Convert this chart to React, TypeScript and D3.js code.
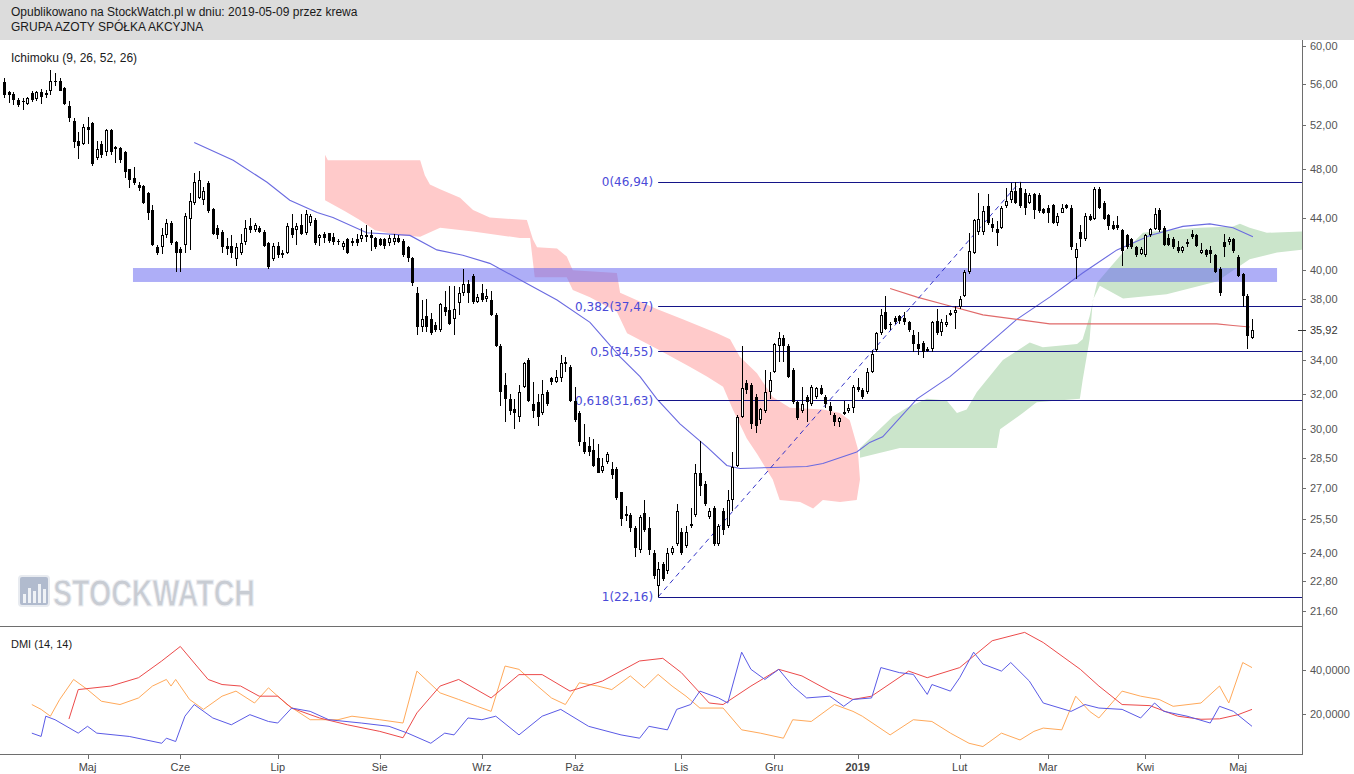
import React from 'react';
import * as d3 from 'd3';

// ---------- DATA ----------
// Daily candles [open, high, low, close], trading-day index 0..269
const candles: [number, number, number, number][] = [
  [56.2,56.6,54.6,54.9],[55.2,55.3,54.1,54.9],[55.0,55.2,53.9,54.4],[54.4,54.6,53.7,53.9],[54.3,54.6,53.4,54.2],
  [54.0,54.7,53.9,54.6],[55.1,55.3,54.2,54.4],[54.5,55.3,54.3,55.2],[55.2,55.5,54.0,54.7],[55.0,55.4,54.6,55.1],
  [55.3,57.5,54.9,56.3],[56.3,57.1,55.8,56.2],[56.3,56.6,55.3,55.3],[55.6,55.7,53.9,54.0],[53.8,54.3,52.3,52.7],
  [52.4,52.7,49.9,50.4],[50.5,51.4,48.9,50.1],[50.3,52.1,50.2,51.8],[51.8,52.8,50.3,51.5],[52.2,52.3,48.3,48.5],
  [49.0,50.5,48.8,49.8],[50.3,50.5,49.0,49.3],[49.5,51.6,49.2,51.5],[51.5,51.6,49.3,49.5],[50.0,50.1,48.6,49.8],
  [49.9,50.0,48.6,48.8],[49.5,49.6,47.3,47.8],[48.0,48.0,46.4,47.1],[47.3,48.2,46.7,46.8],[46.7,46.9,46.2,46.4],
  [46.6,46.7,45.1,45.2],[46.0,46.1,43.8,44.4],[44.6,45.0,41.8,41.9],[41.7,41.9,41.1,41.3],[41.7,43.2,41.2,42.6],
  [42.6,43.9,42.4,43.6],[43.6,43.7,41.9,42.0],[42.1,42.2,39.9,41.3],[41.6,41.7,39.9,41.3],[41.9,44.4,41.3,44.1],
  [43.9,46.0,41.5,45.3],[45.2,47.7,45.0,46.9],[45.6,47.9,45.5,47.1],[45.4,46.5,45.0,46.2],[46.8,47.0,44.4,44.5],
  [44.7,44.8,42.6,42.7],[43.2,43.4,42.3,42.6],[42.9,43.0,41.3,41.7],[41.8,42.4,41.1,41.6],[41.8,42.6,40.9,41.3],
  [40.8,42.0,40.3,41.7],[41.3,42.7,41.1,42.0],[42.1,43.8,41.9,43.2],[43.3,44.0,42.8,43.0],[43.0,43.6,42.9,43.4],
  [43.2,43.3,42.8,42.9],[42.9,43.0,41.7,41.8],[42.0,42.1,40.1,40.2],[40.8,42.0,40.7,41.8],[41.8,42.1,40.9,41.1],
  [41.1,41.5,40.9,41.3],[41.3,43.6,41.2,43.3],[43.2,44.3,42.4,42.6],[43.0,43.6,41.9,43.3],[43.4,44.3,42.6,42.7],
  [42.8,44.6,42.6,44.3],[43.6,44.3,43.3,44.1],[43.8,44.0,41.9,42.0],[42.4,42.7,41.8,42.6],[42.7,42.9,42.0,42.4],
  [42.8,42.8,42.0,42.2],[42.5,42.8,41.9,42.1],[42.2,42.3,41.9,42.1],[41.7,42.2,41.5,42.0],[42.3,42.4,41.2,41.3],
  [42.0,42.4,41.8,42.2],[42.3,42.7,41.8,42.0],[42.3,43.2,42.1,42.6],[42.6,43.4,42.1,42.65],[42.6,43.0,41.4,42.4],
  [42.4,42.5,41.6,41.7],[42.3,42.4,41.8,41.9],[42.3,42.4,41.6,41.8],[42.0,42.6,41.8,42.4],[42.1,42.7,41.9,42.4],
  [42.4,42.6,42.0,42.1],[42.2,42.3,41.0,41.1],[41.7,41.8,40.6,40.9],[40.9,41.0,38.9,39.1],[38.4,38.8,35.6,36.1],
  [36.1,37.9,35.8,36.6],[36.8,38.0,35.8,36.1],[36.6,37.0,35.6,35.7],[36.2,36.4,35.8,35.9],[35.9,37.7,35.8,37.6],
  [37.4,38.5,36.8,37.1],[37.2,38.9,36.2,36.3],[36.6,38.9,35.6,37.3],[37.7,38.8,36.9,38.4],[38.4,40.1,38.2,39.0],
  [39.0,39.3,37.7,38.4],[39.6,39.7,37.6,37.8],[37.8,38.3,37.7,38.1],[38.4,39.0,37.8,37.9],[38.0,38.7,37.8,38.2],
  [37.9,38.5,36.8,36.9],[36.9,37.0,34.8,34.9],[34.9,35.0,31.3,32.1],[32.5,33.2,30.4,31.7],[31.7,32.0,30.8,31.0],
  [31.1,31.7,30.0,30.9],[30.7,32.5,30.4,32.1],[32.4,33.9,32.3,33.8],[34.0,34.1,31.5,31.6],[31.4,32.7,30.6,31.0],
  [31.5,32.0,30.2,30.7],[30.9,32.8,30.8,32.0],[32.1,32.2,31.3,31.4],[32.9,33.0,32.5,32.7],[32.7,33.4,32.6,33.0],
  [32.9,34.3,32.7,33.8],[33.8,34.2,33.3,33.9],[33.6,33.7,31.5,31.6],[31.6,32.4,30.4,30.5],[30.9,31.0,29.1,29.3],
  [29.3,30.3,28.7,28.8],[29.1,29.6,28.6,28.8],[28.9,29.5,28.0,28.1],[28.5,29.2,27.7,27.7],[27.8,28.5,27.7,28.1],
  [28.3,28.8,28.2,28.7],[27.9,28.3,27.4,27.6],[27.9,28.0,26.4,26.5],[26.8,26.8,25.2,25.5],[25.7,26.1,25.4,25.75],
  [25.7,25.8,24.9,25.1],[25.1,25.2,23.8,24.2],[24.1,25.7,24.0,25.6],[25.8,26.4,24.9,25.0],[25.1,25.6,23.9,24.1],
  [24.0,24.1,22.9,23.0],[22.6,23.6,22.16,23.3],[23.5,23.6,22.8,22.9],[23.2,24.2,23.1,24.0],[24.0,24.3,23.9,24.2],
  [24.4,26.2,24.3,25.9],[24.9,25.1,23.9,24.0],[24.3,25.2,24.2,24.9],[25.2,26.0,25.1,25.3],[25.7,28.2,25.6,27.7],
  [27.7,29.4,26.6,27.1],[27.2,27.3,26.1,26.2],[25.6,26.0,25.5,25.9],[26.0,26.1,24.3,24.4],[24.4,25.3,24.3,25.2],
  [25.9,26.0,24.8,25.0],[25.2,26.9,25.1,26.4],[26.4,28.8,25.9,28.0],[28.1,30.8,28.0,30.7],[30.7,34.9,30.6,32.3],
  [32.6,32.8,32.0,32.2],[32.5,32.6,30.0,30.3],[31.8,32.0,29.8,30.2],[30.5,31.2,30.3,31.1],[31.0,33.4,30.9,32.1],
  [32.1,33.3,31.7,32.8],[33.3,35.1,33.2,35.0],[34.9,35.8,33.9,35.4],[35.4,35.6,33.9,34.9],[34.9,35.0,32.9,33.0],
  [33.4,33.5,31.4,31.5],[31.5,31.6,30.5,30.6],[31.0,32.4,30.9,31.4],[31.8,31.9,30.4,31.5],[31.4,32.5,31.3,32.4],
  [31.8,32.4,31.7,32.3],[32.3,32.5,31.9,32.0],[31.8,31.9,31.2,31.4],[31.3,31.5,30.8,31.0],[30.8,30.9,30.2,30.4],
  [30.4,30.7,30.1,30.6],[30.9,31.6,30.8,30.95],[31.0,31.4,30.9,31.2],[31.2,32.5,30.9,32.4],[32.4,32.9,32.1,32.2],
  [32.2,32.3,31.7,31.8],[32.1,33.5,32.0,33.3],[33.3,34.6,33.2,34.4],[34.6,35.8,34.5,35.7],[35.7,37.3,35.6,36.9],
  [37.1,38.2,35.9,36.0],[36.3,36.4,35.9,36.2],[36.7,36.8,36.3,36.4],[36.8,36.9,36.3,36.5],[36.7,37.1,36.2,36.4],
  [36.4,36.5,35.8,35.9],[35.6,35.9,34.5,35.0],[35.0,35.8,34.3,34.7],[35.1,35.2,34.1,34.5],[34.6,34.8,34.5,34.7],
  [34.7,36.5,34.5,36.4],[36.5,37.3,35.6,35.7],[35.8,36.6,35.5,36.4],[36.2,36.9,36.1,36.4],[36.9,37.2,36.8,37.0],
  [37.0,37.5,36.0,37.2],[37.4,38.2,37.3,38.0],[38.2,40.0,38.1,39.9],[39.9,42.8,39.7,41.4],[41.3,43.9,41.2,43.8],
  [42.9,46.0,42.6,43.9],[42.9,44.9,42.6,44.5],[44.9,45.9,43.4,43.6],[43.5,44.0,42.9,43.2],[43.1,43.7,41.8,42.8],
  [43.2,44.9,43.1,44.8],[44.9,46.4,44.8,45.3],[45.4,46.8,45.2,46.2],[46.2,46.9,45.1,45.2],[46.4,46.94,44.8,44.9],
  [46.0,46.3,44.2,44.8],[45.2,46.0,45.1,45.8],[45.9,46.0,43.9,44.6],[45.8,46.0,44.4,44.5],[44.7,44.8,44.3,44.4],
  [44.8,45.0,43.6,44.4],[45.0,45.1,43.5,43.6],[43.6,44.4,43.3,44.1],[44.4,45.1,44.4,44.8],[45.0,45.1,44.7,44.8],
  [44.8,45.0,41.5,41.7],[40.9,42.0,39.4,41.6],[42.9,43.4,41.7,42.3],[42.3,44.4,42.2,44.1],[44.1,44.3,43.7,43.8],
  [43.9,46.5,43.8,46.3],[46.3,46.5,44.7,44.8],[45.2,45.3,43.8,43.9],[44.2,44.3,43.0,43.3],[43.4,43.7,43.0,43.1],
  [43.4,44.1,43.0,43.2],[43.0,43.1,40.3,41.4],[42.6,42.7,41.6,41.7],[42.3,42.4,41.6,41.7],[41.7,41.8,41.0,41.1],
  [41.2,41.7,41.1,41.6],[41.1,42.7,41.0,42.6],[42.6,43.2,42.5,43.1],[43.1,44.8,43.0,44.3],[44.6,44.8,42.9,43.0],
  [43.2,43.3,41.8,41.9],[42.4,42.7,41.8,41.9],[42.3,42.5,41.6,41.7],[41.7,42.2,41.3,41.4],[41.4,41.8,41.3,41.7],
  [42.0,42.3,41.7,42.1],[42.7,43.0,42.3,42.5],[42.6,42.7,41.7,41.8],[41.3,42.0,41.2,41.5],[41.5,41.6,41.0,41.1],
  [41.5,41.8,40.5,41.2],[41.1,41.2,39.8,39.9],[40.1,40.2,38.2,38.4],[42.1,42.7,41.0,41.7],[42.1,42.5,41.9,42.3],
  [42.3,42.4,41.3,41.4],[41.0,41.1,39.5,39.6],[39.7,39.8,37.4,38.2],[38.2,38.3,34.7,35.5],[35.4,36.6,35.3,35.92],
];

// Ichimoku clouds: [tradingDayIndex, price]
const pinkTop: [number, number][] = [
  [69.2,49.3],[69.8,48.8],[89.7,48.8],[90.7,47.5],[91.8,46.7],[94,46.3],[98.3,45.6],[101.1,44.6],[104.7,44.0],
  [112.7,43.8],[114,42.3],[114.9,41.7],[119.2,41.6],[121.3,41.0],[122.6,40.0],[132.1,39.8],[132.8,38.4],
  [140.7,37.3],[146.3,36.6],[153.7,35.7],[156.5,35.3],[158.6,34.2],[162.3,33.2],[165.7,31.8],[169.4,31.2],
  [176.5,31.1],[180.2,30.9],[182.3,30.5],[184,29.0],
];
const pinkBottom: [number, number][] = [
  [69.2,45.4],[73.5,44.5],[76.7,43.8],[80,43.0],[85.3,42.6],[89.7,42.5],[94,43.2],[101.1,42.9],[111.2,42.4],
  [113.4,42.4],[114.4,39.5],[121.3,39.5],[122.6,38.6],[126.3,38.1],[132.1,37.1],[134.3,35.7],[140.7,34.7],
  [147.8,33.6],[151.5,33.0],[155,32.4],[157.1,31.1],[160.1,29.5],[162.3,28.7],[165.7,27.4],[167.2,26.4],
  [171.6,26.3],[174.4,26.0],[176.5,26.4],[180.2,26.3],[183.8,26.4],[184.5,27.4],
];
const greenTop: [number, number][] = [
  [184.5,29.0],[191.6,30.7],[194.6,31.2],[198.9,31.7],[203.2,31.6],[205.4,30.9],[207.5,31.1],[209.7,32.1],
  [215.3,34.0],[221.1,35.1],[223.9,34.8],[231.3,35.0],[232.5,35.3],[234,36.8],[235.6,39.1],[238.4,40.2],
  [241.2,41.3],[245.5,42.8],[250.6,43.0],[257.8,43.2],[264.9,43.3],[266.4,43.5],[268.5,43.2],[272.2,42.8],
  [279.7,42.9],[285,42.9],
];
const greenBottom: [number, number][] = [
  [184.5,28.5],[193.1,29.0],[214,29.0],[214.7,30.0],[219.6,30.9],[222.6,31.5],[231.9,31.7],[232.5,32.8],
  [234,35.3],[234.7,37.9],[236.2,38.9],[241.2,38.0],[250.6,38.3],[257.8,38.9],[261.4,39.2],[268.5,40.8],
  [274.4,41.3],[279.7,41.5],[285,41.5],
];

// Ichimoku lines
const blueLine: [number, number][] = [
  [41,50.4],[49.4,48.8],[56.7,46.9],[61.6,45.4],[67.5,44.4],[70.9,44.0],[78.2,42.8],[87.5,42.6],[93.3,41.5],
  [98.9,41.1],[104.7,40.5],[111.9,39.2],[119.2,37.9],[126.3,36.4],[132.8,34.2],[137.1,33.0],[140.7,31.7],
  [145.7,30.3],[151.5,29.06],[155.8,28.1],[158.6,27.95],[165.7,28.0],[173,28.05],[176.5,28.2],[183.8,28.8],
  [186.6,29.3],[189.4,29.6],[196.8,31.7],[203.9,33.0],[211,34.7],[218.3,36.6],[225.4,38.1],[232.5,39.8],
  [239.9,41.5],[247,42.6],[254.1,43.3],[259.9,43.5],[264.9,43.2],[269.2,42.5],
];
const redLine: [number, number][] = [
  [191,38.7],[196.8,38.1],[203.9,37.5],[211,36.9],[218.3,36.6],[225.4,36.3],[239.9,36.3],[254.1,36.3],
  [261.4,36.3],[264.9,36.2],[268.5,36.1],
];

// Support band and Fibonacci retracement
const bandRange = { from: 27.8, to: 274.4, low: 39.16, high: 40.16 };
const fibLevels = [46.94, 37.47, 34.55, 31.63, 22.16];
const fibLabels = ['0(46,94)', '0,382(37,47)', '0,5(34,55)', '0,618(31,63)', '1(22,16)'];
const fibLowIndex = 141;
const fibHighIndex = 219;

// DMI (14,14): [index, value]
const dmiAdx: [number, number][] = [
  [14,17.7],[16,31.1],[23,32.7],[29,36.5],[34,44.1],[38,50.7],[44,35.7],[47,33.4],[51,32.7],[55,28.1],[59,28.1],
  [62,22.7],[68,18.2],[74,15.1],[81,12.1],[86,9.2],[89,20.5],[94,32.7],[98,35.7],[105,27.3],[111,37.9],[116,37.9],
  [122,30.4],[129,35.0],[137,44.1],[142,45.3],[146,38.8],[152,25.0],[155,24.3],[161,32.7],[167,40.3],[172,37.3],
  [178,30.4],[183,26.6],[187,28.1],[195,39.5],[199,36.5],[206,41.1],[213,53.3],[220,57.1],[224,52.5],[232,40.3],
  [236,32.7],[241,24.3],[247,23.8],[253,19.0],[258,17.6],[262,17.8],[266,19.7],[269,22.1],
];
const dmiPlus: [number, number][] = [
  [6,11.3],[8,9.8],[9,19.0],[11,17.4],[16,11.3],[18,14.4],[20,11.3],[27,9.8],[34,6.7],[35,9.0],[37,7.5],[39,19.0],
  [41,24.3],[45,18.2],[49,15.1],[53,19.7],[57,16.6],[59,15.9],[62,22.7],[66,21.2],[70,17.4],[77,15.9],[83,14.4],
  [87,11.3],[92,6.7],[95,11.3],[97,10.5],[100,18.2],[103,17.4],[106,19.0],[111,10.5],[116,19.0],[120,22.1],
  [126,14.4],[133,10.5],[137,9.0],[139,14.4],[143,12.8],[145,22.1],[148,24.3],[150,30.4],[154,27.3],[156,25.0],
  [159,48.1],[161,40.3],[164,35.7],[167,40.3],[170,32.7],[173,27.3],[178,28.1],[181,23.5],[183,26.6],[187,27.3],
  [189,41.1],[193,38.8],[196,38.0],[199,28.9],[200,33.4],[204,30.4],[206,36.5],[209,48.1],[211,42.7],[215,39.5],
  [217,43.4],[221,35.0],[224,25.0],[230,21.2],[233,24.3],[236,22.7],[241,22.1],[245,18.2],[248,25.0],[250,21.2],
  [255,19.0],[260,15.9],[262,23.5],[265,21.2],[269,14.4],
];
const dmiMinus: [number, number][] = [
  [6,24.3],[8,22.1],[10,19.0],[12,26.6],[15,35.7],[18,31.1],[21,25.8],[25,24.3],[29,27.3],[32,32.7],[35,35.7],
  [36,32.7],[37,35.7],[40,26.6],[43,22.1],[47,28.1],[50,30.4],[54,25.0],[57,31.9],[61,24.3],[66,17.4],[72,17.4],
  [75,19.0],[81,17.4],[86,15.9],[89,39.5],[94,29.6],[98,26.6],[102,23.5],[105,21.2],[108,41.8],[111,40.3],
  [115,32.7],[118,27.3],[121,24.3],[124,34.2],[128,32.7],[131,31.1],[135,37.3],[138,31.9],[141,38.0],[144,32.7],
  [147,28.1],[150,22.7],[155,22.7],[159,12.8],[163,11.3],[168,9.0],[170,17.4],[174,16.6],[179,24.3],[183,21.2],
  [185,19.0],[191,10.5],[196,17.4],[200,16.6],[204,11.3],[208,6.7],[211,5.2],[215,11.3],[219,8.2],[222,12.1],
  [224,13.6],[228,12.8],[231,28.1],[234,21.2],[236,18.2],[241,30.4],[245,28.1],[249,26.6],[252,23.5],[258,25.0],
  [262,32.7],[264,25.0],[267,43.4],[269,41.1],
];

// Axes
const priceTicks = [60, 56, 52, 48, 44, 40, 38, 34, 32, 30, 28.5, 27, 25.5, 24, 22.8, 21.6];
const lastPrice = 35.92;
const dmiTicks = [40, 20];
const monthLabels = ['Maj', 'Cze', 'Lip', 'Sie', 'Wrz', 'Paź', 'Lis', 'Gru', '2019', 'Lut', 'Mar', 'Kwi', 'Maj'];
const monthIndex = [18, 38, 59, 81, 103, 123, 146, 166, 184, 206, 225, 246, 266];

const headerLine1 = 'Opublikowano na StockWatch.pl w dniu: 2019-05-09 przez krewa';
const headerLine2 = 'GRUPA AZOTY SPÓŁKA AKCYJNA';
const mainTitle = 'Ichimoku (9, 26, 52, 26)';
const dmiTitle = 'DMI (14, 14)';

// ---------- CHART ----------
const W = 1354;
const H = 774;
const AXIS_X = 1302;
const FONT = "'Liberation Sans', Arial, sans-serif";

export default function App() {
  const x = d3.scaleLinear().domain([0, candles.length - 1]).range([4, 1252]);
  const y = d3.scaleLog().domain([21.6, 60]).range([611, 46]);
  const yd = d3.scaleLinear().domain([0, 60]).range([758, 626]);

  const line = d3.line<[number, number]>().x(d => x(d[0])).y(d => y(d[1]));
  const lineD = d3.line<[number, number]>().x(d => x(d[0])).y(d => yd(d[1]));
  const poly = (top: [number, number][], bot: [number, number][]) =>
    (line([...top, ...bot.slice().reverse()]) || '') + 'Z';
  const fmt2 = (v: number) => v.toFixed(2).replace('.', ',');
  const fmt4 = (v: number) => v.toFixed(4).replace('.', ',');

  const fibX0 = x(fibLowIndex);

  return (
    <svg width={W} height={H} style={{ position: 'absolute', left: 0, top: 0, background: '#fff' }}
      fontFamily={FONT}>
      <defs>
        <clipPath id="mainClip"><rect x={0} y={40} width={AXIS_X} height={586} /></clipPath>
        <clipPath id="dmiClip"><rect x={0} y={627} width={AXIS_X} height={127} /></clipPath>
      </defs>
      <rect x={0} y={0} width={W} height={H} fill="#fff" />
      {/* header */}
      <rect x={0} y={0} width={W} height={40} fill="#dcdcdc" />
      <text x={11} y={16} fontSize={12} fill="#1a1a1a">{headerLine1}</text>
      <text x={11} y={31} fontSize={12} fill="#1a1a1a">{headerLine2}</text>

      {/* watermark */}
      <g opacity={0.9}>
        <rect x={19} y={576} width={30} height={30} rx={3} fill="#a9b4c9" stroke="#e6e9ef" strokeWidth={2} />
        {[0, 1, 2, 3, 4].map(k => (
          <rect key={k} x={23 + k * 5} y={[594, 588, 591, 584, 589][k]} width={3}
            height={603 - [594, 588, 591, 584, 589][k]} fill="#eef1f6" />
        ))}
        <text x={53} y={606} fontSize={37} fontWeight="bold" fill="#c3c7cf" stroke="#eceef2" strokeWidth={1}
          textLength={202} lengthAdjust="spacingAndGlyphs">STOCKWATCH</text>
      </g>

      <text x={11} y={62} fontSize={12} fill="#1a1a1a">{mainTitle}</text>

      <g clipPath="url(#mainClip)">
        {/* clouds */}
        <path d={poly(pinkTop, pinkBottom)} fill="#ffcaca" />
        <path d={poly(greenTop, greenBottom)} fill="#cbe5cb" />
        {/* support band */}
        <rect x={x(bandRange.from)} y={y(bandRange.high)} width={x(bandRange.to) - x(bandRange.from)}
          height={y(bandRange.low) - y(bandRange.high)} fill="rgb(100,100,240)" fillOpacity={0.52} />
        {/* ichimoku lines */}
        <path d={line(blueLine) || ''} fill="none" stroke="#6a6ae0" strokeWidth={1.1} />
        <path d={line(redLine) || ''} fill="none" stroke="#e06a6a" strokeWidth={1.1} />
        {/* fibonacci */}
        {fibLevels.map((v, k) => (
          <g key={k}>
            <line x1={fibX0} x2={AXIS_X} y1={Math.round(y(v)) + 0.5} y2={Math.round(y(v)) + 0.5}
              stroke="#141488" strokeWidth={1} />
            <text x={fibX0 - 5} y={y(v) + 4.5} fontSize={12} fill="#4a4ad8" textAnchor="end"
              fontFamily="'DejaVu Sans', Verdana, sans-serif">{fibLabels[k]}</text>
          </g>
        ))}
        <line x1={x(fibLowIndex)} y1={y(fibLevels[4])} x2={x(fibHighIndex)} y2={y(fibLevels[0])}
          stroke="#3434c8" strokeWidth={1} strokeDasharray="5,4" />
        {/* candles */}
        {candles.map((c, i) => {
          const [o, h, l, cl] = c;
          const cx = Math.round(x(i));
          const up = cl >= o;
          const top = Math.round(y(Math.max(o, cl)));
          const bot = Math.round(y(Math.min(o, cl)));
          const bh = Math.max(1, bot - top);
          return (
            <g key={i} shapeRendering="crispEdges">
              <line x1={cx + 0.5} x2={cx + 0.5} y1={y(h)} y2={y(l)} stroke="#000" strokeWidth={1} />
              {up ? (
                <rect x={cx - 0.5} y={top + 0.5} width={2} height={Math.max(1, bh - 1)} fill="#fff"
                  stroke="#000" strokeWidth={1} />
              ) : (
                <rect x={cx - 1} y={top} width={3} height={bh} fill="#000" />
              )}
            </g>
          );
        })}
      </g>

      {/* panel separator */}
      <line x1={0} x2={AXIS_X} y1={626.5} y2={626.5} stroke="#6e6e6e" strokeWidth={1} />

      {/* DMI panel */}
      <text x={11} y={648} fontSize={11} fill="#1a1a1a">{dmiTitle}</text>
      <g clipPath="url(#dmiClip)">
        <path d={lineD(dmiMinus) || ''} fill="none" stroke="#ffa95a" strokeWidth={1} />
        <path d={lineD(dmiAdx) || ''} fill="none" stroke="#ec4a4a" strokeWidth={1} />
        <path d={lineD(dmiPlus) || ''} fill="none" stroke="#5a5ae6" strokeWidth={1} />
      </g>

      {/* right axis */}
      <line x1={AXIS_X + 0.5} x2={AXIS_X + 0.5} y1={40} y2={755} stroke="#6e6e6e" strokeWidth={1} />
      {priceTicks.map(v => (
        <g key={v}>
          <line x1={AXIS_X} x2={AXIS_X + 4} y1={Math.round(y(v)) + 0.5} y2={Math.round(y(v)) + 0.5}
            stroke="#6e6e6e" />
          <text x={AXIS_X + 8} y={y(v) + 4} fontSize={11} fill="#555">{fmt2(v)}</text>
        </g>
      ))}
      <line x1={AXIS_X - 4} x2={AXIS_X + 4} y1={Math.round(y(lastPrice)) + 0.5}
        y2={Math.round(y(lastPrice)) + 0.5} stroke="#333" />
      <text x={AXIS_X + 8} y={y(lastPrice) + 4} fontSize={11} fill="#333">{fmt2(lastPrice)}</text>
      {dmiTicks.map(v => (
        <g key={v}>
          <line x1={AXIS_X} x2={AXIS_X + 4} y1={Math.round(yd(v)) + 0.5} y2={Math.round(yd(v)) + 0.5}
            stroke="#6e6e6e" />
          <text x={AXIS_X + 8} y={yd(v) + 4} fontSize={11} fill="#555">{fmt4(v)}</text>
        </g>
      ))}

      {/* bottom axis */}
      <line x1={0} x2={AXIS_X} y1={754.5} y2={754.5} stroke="#6e6e6e" strokeWidth={1} />
      {monthLabels.map((m, k) => (
        <g key={k}>
          <line x1={Math.round(x(monthIndex[k])) + 0.5} x2={Math.round(x(monthIndex[k])) + 0.5}
            y1={755} y2={759} stroke="#6e6e6e" />
          <text x={x(monthIndex[k])} y={771} fontSize={11} fill="#444" textAnchor="middle"
            fontWeight={m === '2019' ? 'bold' : 'normal'}>{m}</text>
        </g>
      ))}
    </svg>
  );
}
